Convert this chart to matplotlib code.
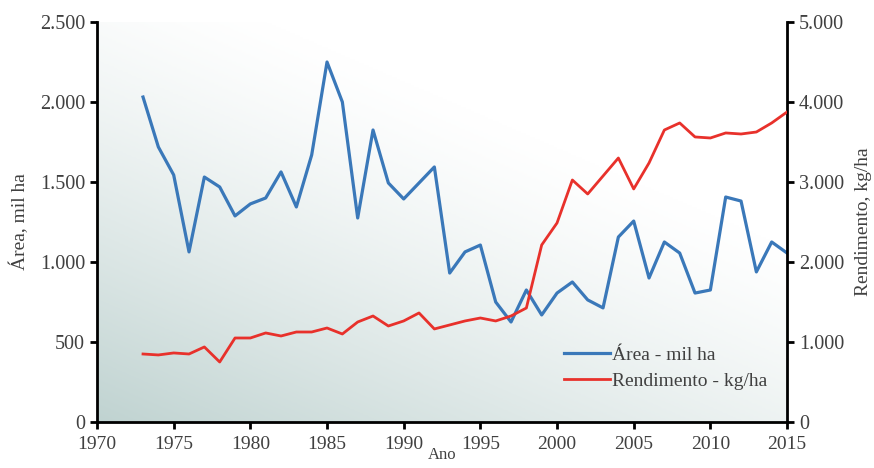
import numpy as np
import matplotlib
matplotlib.use("Agg")
import matplotlib.pyplot as plt
from matplotlib.colors import LinearSegmentedColormap

plt.rcParams['font.family'] = ['Liberation Serif', 'DejaVu Serif']

years = list(range(1973, 2016))
area = [2031, 1719, 1544, 1063, 1531, 1469, 1288, 1363, 1400, 1563,
        1344, 1669, 2250, 2000, 1275, 1825, 1494, 1394, 1494, 1594,
        931, 1063, 1106, 750, 625, 825, 669, 806, 875, 763,
        713, 1156, 1256, 900, 1125, 1056, 806, 825, 1406, 1381,
        938, 1125, 1056]
rendimento = [850, 838, 863, 850, 938, 750, 1050, 1050, 1113, 1075,
              1125, 1125, 1175, 1100, 1250, 1325, 1200, 1263, 1363, 1163,
              1213, 1263, 1300, 1263, 1325, 1425, 2213, 2488, 3025, 2850,
              3075, 3300, 2913, 3238, 3650, 3738, 3563, 3550, 3613, 3600,
              3625, 3738, 3875]

area_label = "Área - mil ha"
rend_label = "Rendimento - kg/ha"
left_ticks = [0, 500, 1000, 1500, 2000, 2500]
right_ticks = [0, 1000, 2000, 3000, 4000, 5000]
x_ticks = [1970, 1975, 1980, 1985, 1990, 1995, 2000, 2005, 2010, 2015]


def fmt(v):
    return f"{v:,}".replace(",", ".")


text_color = "#404040"
blue = "#3a78b9"
red = "#e8312b"

fig = plt.figure(figsize=(8.74, 4.68), dpi=100)
ax = fig.add_axes([0.111, 0.0983, 0.7895, 0.8547])
ax2 = ax.twinx()

# diagonal background wash, darker toward the lower left
nx, ny = 400, 200
gx, gy = np.meshgrid(np.linspace(0, 1, nx), np.linspace(0, 1, ny))
shade = np.clip(1 - (0.75 * gx + 1.0 * gy) / 1.2, 0, 1) ** 1.3
cmap = LinearSegmentedColormap.from_list("wash", ["#ffffff", "#c0d3d1"])
ax.imshow(shade, cmap=cmap, vmin=0, vmax=1, origin="lower", aspect="auto",
          extent=[0, 1, 0, 1], transform=ax.transAxes, zorder=0,
          interpolation="bilinear")

l1, = ax.plot(years, area, color=blue, lw=2.3, zorder=3, label=area_label)
l2, = ax2.plot(years, rendimento, color=red, lw=2.0, zorder=3, label=rend_label)

ax.set_xlim(1970, 2015)
ax.set_ylim(0, 2500)
ax2.set_ylim(0, 5000)

ax.set_xticks(x_ticks)
ax.set_xticklabels([str(x) for x in x_ticks])
ax.set_yticks(left_ticks)
ax.set_yticklabels([fmt(v) for v in left_ticks])
ax2.set_yticks(right_ticks)
ax2.set_yticklabels([fmt(v) for v in right_ticks])

for a in (ax, ax2):
    a.spines['top'].set_visible(False)
    for s in ('left', 'right', 'bottom'):
        a.spines[s].set_linewidth(2.0)
        a.spines[s].set_color("black")
    a.tick_params(axis='both', direction='out', length=5, width=2.0,
                  labelsize=14.5, labelcolor=text_color, color="black")
ax.tick_params(axis='x', pad=5, labelsize=14)
ax.spines['right'].set_visible(False)
ax2.spines['left'].set_visible(False)
ax2.spines['bottom'].set_visible(False)

ax.set_xlabel("Ano", fontsize=12, color=text_color, labelpad=-4)
ax.set_ylabel("Área, mil ha", fontsize=14, color=text_color, labelpad=8)
ax2.set_ylabel("Rendimento, kg/ha", fontsize=14, color=text_color, labelpad=8)

leg = ax2.legend(handles=[l1, l2], loc="lower left",
                 bbox_to_anchor=(0.665, 0.06), frameon=False, fontsize=14,
                 handlelength=2.4, handletextpad=0.1, labelspacing=0.45,
                 borderaxespad=0)
for t in leg.get_texts():
    t.set_color(text_color)

fig.savefig("out.png", dpi=100)
